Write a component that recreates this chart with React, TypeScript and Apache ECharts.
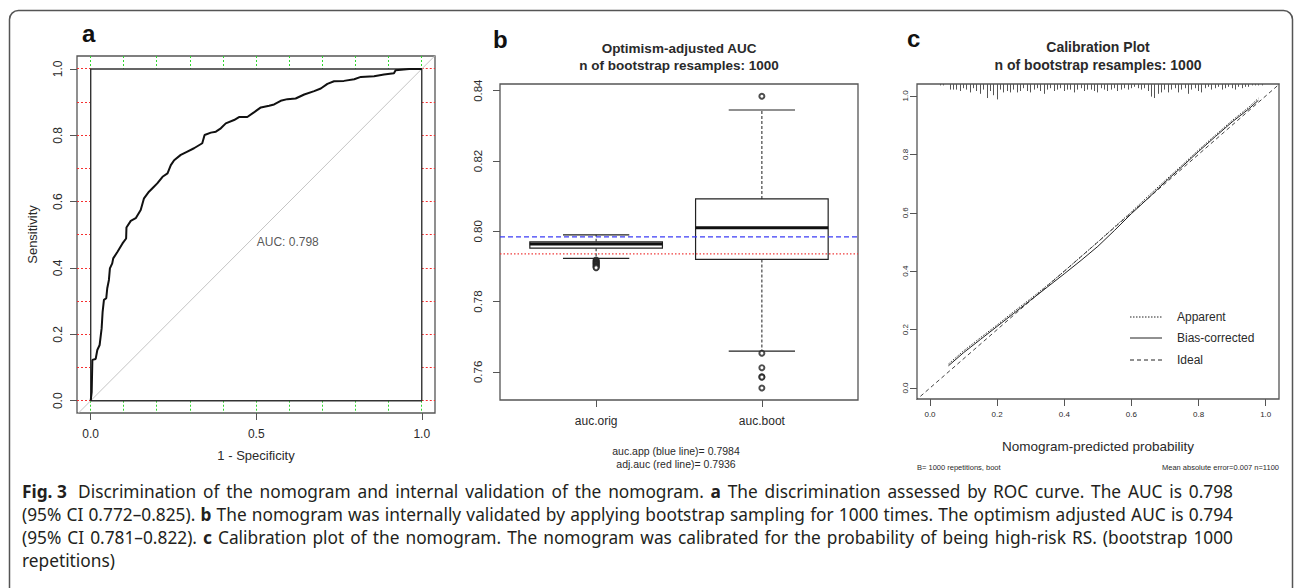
import React, { useEffect, useRef } from "react";
import * as echarts from "echarts";

// ---------------- data ----------------
// Panel a: ROC curve (1 - specificity, sensitivity)
const rocFpr = [0, 0.003, 0.005, 0.015, 0.02, 0.027, 0.033, 0.036, 0.04, 0.047, 0.05, 0.055, 0.058, 0.065, 0.068, 0.081, 0.096, 0.107, 0.108, 0.121, 0.136, 0.151, 0.161, 0.176, 0.191, 0.201, 0.217, 0.232, 0.242, 0.252, 0.272, 0.292, 0.312, 0.337, 0.344, 0.363, 0.378, 0.393, 0.408, 0.433, 0.448, 0.473, 0.493, 0.514, 0.539, 0.554, 0.574, 0.594, 0.619, 0.645, 0.675, 0.695, 0.715, 0.735, 0.765, 0.796, 0.816, 0.856, 0.886, 0.916, 0.921, 0.962, 1];
const rocTpr = [0, 0.027, 0.123, 0.126, 0.153, 0.168, 0.218, 0.268, 0.304, 0.309, 0.339, 0.364, 0.399, 0.414, 0.429, 0.449, 0.474, 0.489, 0.522, 0.542, 0.55, 0.575, 0.61, 0.63, 0.645, 0.655, 0.675, 0.685, 0.71, 0.725, 0.741, 0.751, 0.761, 0.776, 0.801, 0.808, 0.811, 0.821, 0.836, 0.846, 0.855, 0.855, 0.869, 0.884, 0.889, 0.893, 0.904, 0.909, 0.911, 0.923, 0.933, 0.941, 0.955, 0.963, 0.964, 0.969, 0.976, 0.978, 0.983, 0.987, 0.996, 1, 1];
const rocGridSteps = [0, 0.1, 0.2, 0.3, 0.4, 0.5, 0.6, 0.7, 0.8, 0.9, 1];
const rocXTicks = [0, 0.5, 1];
const rocYTicks = [0, 0.2, 0.4, 0.6, 0.8, 1];
const rocExtentX = [-0.0414, 1.04];
const rocExtentY = [-0.037, 1.039];
const rocAucLabel = "AUC: 0.798";
const rocAucAt = [0.5, 0.5];

// Panel b: bootstrap boxplots  [low whisker, Q1, median, Q3, high whisker]
const bootCategories = ["auc.orig", "auc.boot"];
const bootPositions = [1, 2];
const bootStats = [
  [0.7923, 0.7952, 0.7964, 0.797, 0.799],
  [0.7659, 0.792, 0.801, 0.8092, 0.8345],
];
const origOutliers = [0.7918, 0.7916, 0.7914, 0.7912, 0.791, 0.7908, 0.7906, 0.7904, 0.7902, 0.79, 0.7898, 0.7896];
const bootOutliers = [0.8384, 0.7653, 0.7612, 0.7586, 0.7585, 0.7554];
const aucApp = 0.7984;
const aucAdj = 0.7936;
const bootYTicks = [0.76, 0.78, 0.8, 0.82, 0.84];
const bootExtentX = [0.42, 2.58];
const bootExtentY = [0.752, 0.8419];
const boxHalfWidth = 0.4;
const stapleHalfWidth = 0.2;

// Panel c: calibration
const calX = [0.055, 0.1, 0.15, 0.2, 0.25, 0.3, 0.35, 0.4, 0.45, 0.5, 0.55, 0.6, 0.65, 0.7, 0.75, 0.8, 0.85, 0.9, 0.95, 0.978];
const calApparent = [0.082, 0.127, 0.172, 0.216, 0.262, 0.306, 0.352, 0.4, 0.45, 0.5, 0.552, 0.603, 0.657, 0.71, 0.762, 0.815, 0.866, 0.916, 0.962, 0.992];
const calBias = [0.076, 0.121, 0.166, 0.211, 0.256, 0.301, 0.346, 0.391, 0.437, 0.485, 0.54, 0.597, 0.65, 0.705, 0.757, 0.81, 0.861, 0.911, 0.956, 0.985];
const calTicks = [0, 0.2, 0.4, 0.6, 0.8, 1];
const calExtentX = [-0.0387, 1.0396];
const calExtentY = [-0.0377, 1.041];
const rugX = [0.03, 0.04, 0.06, 0.07, 0.08, 0.09, 0.1, 0.11, 0.12, 0.13, 0.14, 0.15, 0.16, 0.17, 0.18, 0.19, 0.2, 0.21, 0.22, 0.23, 0.24, 0.25, 0.26, 0.27, 0.28, 0.29, 0.3, 0.31, 0.32, 0.33, 0.34, 0.35, 0.36, 0.37, 0.38, 0.39, 0.4, 0.41, 0.42, 0.43, 0.44, 0.45, 0.46, 0.47, 0.48, 0.49, 0.5, 0.51, 0.52, 0.53, 0.54, 0.55, 0.56, 0.57, 0.58, 0.59, 0.6, 0.61, 0.62, 0.63, 0.64, 0.65, 0.66, 0.67, 0.68, 0.69, 0.7, 0.71, 0.72, 0.73, 0.74, 0.75, 0.76, 0.77, 0.78, 0.79, 0.8, 0.81, 0.82, 0.83, 0.84, 0.85, 0.86, 0.87, 0.88, 0.89, 0.9, 0.91, 0.92, 0.93, 0.94, 0.95, 0.96, 0.97, 0.98, 0.99];
const rugCounts = [1, 1, 4, 4, 4, 5, 3, 4, 6, 3, 5, 7, 4, 10, 5, 8, 11, 4, 6, 5, 6, 4, 6, 5, 3, 5, 6, 4, 3, 5, 7, 4, 3, 5, 4, 3, 5, 4, 4, 6, 4, 3, 5, 4, 4, 5, 6, 3, 4, 5, 4, 3, 5, 4, 3, 4, 3, 2, 3, 4, 3, 5, 9, 10, 7, 6, 4, 6, 4, 3, 6, 4, 3, 7, 4, 3, 5, 6, 3, 2, 4, 3, 2, 4, 3, 2, 3, 4, 2, 3, 2, 2, 1, 1, 1, 1];
const rugUnit = 0.0048;
const calLegend = ["Apparent", "Bias-corrected", "Ideal"];

// Caption (bold runs marked with **), justified lines except the last
const captionLines = [
  "**Fig. 3**  Discrimination of the nomogram and internal validation of the nomogram. **a** The discrimination assessed by ROC curve. The AUC is 0.798",
  "(95% CI 0.772–0.825). **b** The nomogram was internally validated by applying bootstrap sampling for 1000 times. The optimism adjusted AUC is 0.794",
  "(95% CI 0.781–0.822). **c** Calibration plot of the nomogram. The nomogram was calibrated for the probability of being high-risk RS. (bootstrap 1000",
  "repetitions)",
];

// ---------------- styling ----------------
const FONT = "'Liberation Sans', Arial, sans-serif";
const CAP_FONT = "'Noto Sans'";
const CAP_SIZE = 17.3;
const CAP_LEFT = 22;
const CAP_RIGHT = 1233;
const CAP_Y0 = 491;
const CAP_LH = 23;
const INK = "#2a2a2a";
const CAP_INK = "#231f20";
const FRAME = "#555";

const pairs = (xs: number[], ys: number[]) => xs.map((x, i) => [x, ys[i]]);
const snap = (v: number) => Math.round(v - 0.5) + 0.5;

function mkAxis(o: any) {
  return {
    type: "value",
    gridIndex: o.grid,
    min: o.ext[0],
    max: o.ext[1],
    axisLine: { show: false, onZero: false },
    splitLine: { show: false },
    axisTick: { show: true, customValues: o.ticks, length: 7, lineStyle: { color: FRAME, width: 1 } },
    axisLabel: {
      customValues: o.ticks,
      formatter: o.fmt,
      fontSize: o.fs,
      margin: o.margin,
      rotate: o.rotate || 0,
      color: INK,
      fontFamily: FONT,
    },
    name: o.name || "",
    nameLocation: "middle",
    nameGap: o.nameGap || 0,
    nameRotate: o.nameRotate,
    nameTextStyle: { fontSize: o.nameSize || 12, color: INK, fontFamily: FONT },
  };
}

function captionGraphics(): any[] {
  const canvas = document.createElement("canvas");
  const ctx = canvas.getContext("2d") as CanvasRenderingContext2D;
  const measure = (t: string, bold: boolean) => {
    ctx.font = `${bold ? "bold " : ""}${CAP_SIZE}px ${CAP_FONT}`;
    return ctx.measureText(t).width;
  };
  const spaceW = measure(" ", false);
  const out: any[] = [];
  captionLines.forEach((line, li) => {
    const words: { t: string; b: boolean; extra: number }[] = [];
    line.split(/(\*\*.+?\*\*)/).forEach((seg) => {
      if (!seg) return;
      if (seg.startsWith("**")) {
        words.push({ t: seg.slice(2, -2), b: true, extra: 0 });
        return;
      }
      const lead = seg.match(/^ +/);
      if (lead && lead[0].length > 1 && words.length) words[words.length - 1].extra += spaceW * (lead[0].length - 1);
      seg.split(/ +/).filter((w) => w.length).forEach((w) => words.push({ t: w, b: false, extra: 0 }));
    });
    const widths = words.map((w) => measure(w.t, w.b));
    const total = widths.reduce((a, b) => a + b, 0) + words.reduce((a, w) => a + w.extra, 0);
    const last = li === captionLines.length - 1;
    const gap = last || words.length < 2 ? spaceW : (CAP_RIGHT - CAP_LEFT - total) / (words.length - 1);
    let x = CAP_LEFT;
    const y = CAP_Y0 + li * CAP_LH;
    words.forEach((w, i) => {
      out.push({
        type: "text",
        x,
        y,
        silent: true,
        style: {
          text: w.t,
          fill: CAP_INK,
          fontSize: CAP_SIZE,
          fontFamily: CAP_FONT,
          fontWeight: w.b ? "bold" : "normal",
          align: "left",
          verticalAlign: "middle",
        },
      });
      x += widths[i] + w.extra + gap;
    });
  });
  return out;
}

function buildOption(): any {
  const gridBorder = { show: true, borderColor: FRAME, borderWidth: 1.3, backgroundColor: "transparent" };
  const grids = [
    { left: 77, top: 56, width: 358, height: 357, ...gridBorder },
    { left: 500, top: 84, width: 358, height: 316, ...gridBorder },
    { left: 917, top: 84, width: 362, height: 315, ...gridBorder },
  ];
  const xAxes = [
    mkAxis({ grid: 0, ext: rocExtentX, ticks: rocXTicks, fmt: (v: number) => v.toFixed(1), fs: 12, margin: 15, name: "1 - Specificity", nameGap: 36, nameSize: 13 }),
    mkAxis({ grid: 1, ext: bootExtentX, ticks: bootPositions, fmt: (v: number) => bootCategories[bootPositions.indexOf(v)] || "", fs: 12, margin: 15 }),
    mkAxis({ grid: 2, ext: calExtentX, ticks: calTicks, fmt: (v: number) => v.toFixed(1), fs: 8, margin: 11, name: "Nomogram-predicted probability", nameGap: 40, nameSize: 13.5 }),
  ];
  const yAxes = [
    mkAxis({ grid: 0, ext: rocExtentY, ticks: rocYTicks, fmt: (v: number) => v.toFixed(1), fs: 12, margin: 13, rotate: 90, name: "Sensitivity", nameGap: 38, nameRotate: 90, nameSize: 13 }),
    mkAxis({ grid: 1, ext: bootExtentY, ticks: bootYTicks, fmt: (v: number) => v.toFixed(2), fs: 11.5, margin: 16, rotate: 90 }),
    mkAxis({ grid: 2, ext: calExtentY, ticks: calTicks, fmt: (v: number) => v.toFixed(1), fs: 8, margin: 8, rotate: 90 }),
  ];

  const series: any[] = [];

  // ----- panel a -----
  series.push({
    type: "custom",
    xAxisIndex: 0,
    yAxisIndex: 0,
    silent: true,
    data: rocGridSteps.map((v) => [v]),
    renderItem: (params: any, api: any) => {
      const v = api.value(0);
      const cs = params.coordSys;
      const xv = snap(api.coord([v, 1])[0]);
      const y1 = api.coord([v, 1])[1];
      const y0 = api.coord([v, 0])[1];
      const x0 = api.coord([0, v])[0];
      const yv = snap(api.coord([0, v])[1]);
      const x1 = api.coord([1, v])[0];
      const green = { stroke: "#2fd62f", lineWidth: 1, lineDash: [2, 2] };
      const red = { stroke: "#f53030", lineWidth: 1, lineDash: [2, 2] };
      return {
        type: "group",
        children: [
          { type: "line", shape: { x1: xv, y1: cs.y, x2: xv, y2: y1 }, style: green },
          { type: "line", shape: { x1: xv, y1: y0, x2: xv, y2: cs.y + cs.height }, style: green },
          { type: "line", shape: { x1: cs.x, y1: yv, x2: x0, y2: yv }, style: red },
          { type: "line", shape: { x1: x1, y1: yv, x2: cs.x + cs.width, y2: yv }, style: red },
        ],
      };
    },
  });
  series.push({
    type: "line",
    xAxisIndex: 0,
    yAxisIndex: 0,
    symbol: "none",
    silent: true,
    clip: true,
    data: [[rocExtentX[0] - 0.1, rocExtentX[0] - 0.1], [rocExtentX[1] + 0.1, rocExtentX[1] + 0.1]],
    lineStyle: { color: "#c4c4c4", width: 1 },
  });
  series.push({
    type: "line",
    xAxisIndex: 0,
    yAxisIndex: 0,
    symbol: "none",
    silent: true,
    data: [[0, 0], [1, 0], [1, 1], [0, 1], [0, 0]],
    lineStyle: { color: "#333", width: 1.4 },
  });
  series.push({
    type: "line",
    xAxisIndex: 0,
    yAxisIndex: 0,
    symbol: "none",
    silent: true,
    data: pairs(rocFpr, rocTpr),
    lineStyle: { color: "#111", width: 2 },
  });
  series.push({
    type: "scatter",
    xAxisIndex: 0,
    yAxisIndex: 0,
    symbolSize: 1,
    silent: true,
    itemStyle: { color: "transparent" },
    data: [rocAucAt],
    label: {
      show: true,
      position: "right",
      distance: 0,
      offset: [0, 7],
      formatter: rocAucLabel,
      fontSize: 12,
      color: INK,
      fontFamily: FONT,
    },
  });

  // ----- panel b -----
  series.push({
    type: "custom",
    xAxisIndex: 1,
    yAxisIndex: 1,
    silent: true,
    data: bootPositions.map((p, i) => [p, ...bootStats[i]]),
    renderItem: (_params: any, api: any) => {
      const p = api.value(0);
      const c = (k: number) => api.coord([p, api.value(k)]);
      const [cx, yLow] = c(1);
      const yQ1 = c(2)[1];
      const yMed = c(3)[1];
      const yQ3 = c(4)[1];
      const yHigh = c(5)[1];
      const hw = api.size([boxHalfWidth, 0])[0];
      const sw = api.size([stapleHalfWidth, 0])[0];
      const solid = { stroke: "#222", lineWidth: 1.2, fill: "none" };
      const dashed = { stroke: "#333", lineWidth: 1.1, lineDash: [3, 2] };
      return {
        type: "group",
        children: [
          { type: "line", shape: { x1: cx, y1: yQ3, x2: cx, y2: yHigh }, style: dashed },
          { type: "line", shape: { x1: cx, y1: yQ1, x2: cx, y2: yLow }, style: dashed },
          { type: "line", shape: { x1: cx - sw, y1: yHigh, x2: cx + sw, y2: yHigh }, style: solid },
          { type: "line", shape: { x1: cx - sw, y1: yLow, x2: cx + sw, y2: yLow }, style: solid },
          { type: "rect", shape: { x: cx - hw, y: yQ3, width: 2 * hw, height: yQ1 - yQ3 }, style: { stroke: "#222", lineWidth: 1.2, fill: "#fff" } },
          { type: "line", shape: { x1: cx - hw, y1: yMed, x2: cx + hw, y2: yMed }, style: { stroke: "#111", lineWidth: 3 } },
        ],
      };
    },
  });
  series.push({
    type: "scatter",
    xAxisIndex: 1,
    yAxisIndex: 1,
    silent: true,
    symbol: "emptyCircle",
    symbolSize: 5,
    itemStyle: { color: "#222", borderWidth: 0.9 },
    data: [
      ...origOutliers.map((v) => [bootPositions[0], v]),
      ...bootOutliers.map((v) => [bootPositions[1], v]),
    ],
  });
  series.push({
    type: "line",
    xAxisIndex: 1,
    yAxisIndex: 1,
    symbol: "none",
    silent: true,
    data: [[bootExtentX[0], aucApp], [bootExtentX[1], aucApp]],
    lineStyle: { color: "#3c3cf5", width: 1.3, type: [5, 3] },
  });
  series.push({
    type: "line",
    xAxisIndex: 1,
    yAxisIndex: 1,
    symbol: "none",
    silent: true,
    data: [[bootExtentX[0], aucAdj], [bootExtentX[1], aucAdj]],
    lineStyle: { color: "#f03c3c", width: 1.3, type: [1.5, 2] },
  });

  // ----- panel c -----
  series.push({
    type: "custom",
    xAxisIndex: 2,
    yAxisIndex: 2,
    silent: true,
    data: pairs(rugX, rugCounts),
    renderItem: (params: any, api: any) => {
      const cs = params.coordSys;
      const x = snap(api.coord([api.value(0), 0])[0]);
      const len = api.size([0, api.value(1) * rugUnit])[1];
      return { type: "line", shape: { x1: x, y1: cs.y, x2: x, y2: cs.y + len }, style: { stroke: "#555", lineWidth: 1 } };
    },
  });
  series.push({
    type: "line",
    xAxisIndex: 2,
    yAxisIndex: 2,
    symbol: "none",
    silent: true,
    clip: true,
    data: [[calExtentX[0] - 0.1, calExtentX[0] - 0.1], [calExtentX[1] + 0.1, calExtentX[1] + 0.1]],
    lineStyle: { color: "#444", width: 1, type: [4, 3] },
  });
  series.push({
    type: "line",
    xAxisIndex: 2,
    yAxisIndex: 2,
    symbol: "none",
    silent: true,
    data: pairs(calX, calApparent),
    lineStyle: { color: "#333", width: 1, type: [1.5, 1.5] },
  });
  series.push({
    type: "line",
    xAxisIndex: 2,
    yAxisIndex: 2,
    symbol: "none",
    silent: true,
    data: pairs(calX, calBias),
    lineStyle: { color: "#222", width: 1 },
  });

  // ----- graphic: frame, labels, titles, legend, caption -----
  const txt = (x: number, y: number, text: string, o: any = {}) => ({
    type: "text",
    x,
    y,
    silent: true,
    style: {
      text,
      fill: o.fill || INK,
      fontSize: o.fs || 12,
      fontFamily: o.ff || FONT,
      fontWeight: o.fw || "normal",
      align: o.align || "left",
      verticalAlign: o.va || "middle",
    },
  });
  const legendY = [317, 338, 360];
  const legendDash = [[1.5, 1.5], null, [4, 3]];

  const graphic: any[] = [
    { type: "rect", silent: true, z: -1, shape: { x: 9.5, y: 10.5, width: 1283, height: 640, r: 9 }, style: { fill: "none", stroke: "#555", lineWidth: 1.5 } },
    txt(82, 33.6, "a", { fs: 24, fw: "bold", fill: "#111" }),
    txt(493, 39.6, "b", { fs: 24, fw: "bold", fill: "#111" }),
    txt(907, 38.6, "c", { fs: 24, fw: "bold", fill: "#111" }),
    txt(679, 48, "Optimism-adjusted AUC", { fs: 13.5, fw: "bold", align: "center" }),
    txt(679, 65, "n of bootstrap resamples: 1000", { fs: 13.5, fw: "bold", align: "center" }),
    txt(1098, 47, "Calibration Plot", { fs: 14, fw: "bold", align: "center" }),
    txt(1098, 65, "n of bootstrap resamples: 1000", { fs: 14, fw: "bold", align: "center" }),
    txt(676, 450.5, "auc.app (blue line)= " + aucApp.toFixed(4), { fs: 10.5, align: "center" }),
    txt(676, 464, "adj.auc (red line)= " + aucAdj.toFixed(4), { fs: 10.5, align: "center" }),
    txt(917, 467, "B= 1000 repetitions, boot", { fs: 7.5 }),
    txt(1279, 467, "Mean absolute error=0.007 n=1100", { fs: 7.5, align: "right" }),
    ...calLegend.map((name, i) => ({
      type: "line",
      silent: true,
      shape: { x1: 1130, y1: legendY[i], x2: 1162, y2: legendY[i] },
      style: { stroke: "#222", lineWidth: 1, lineDash: legendDash[i] || undefined },
    })),
    ...calLegend.map((name, i) => txt(1177, legendY[i], name, { fs: 12 })),
    ...captionGraphics(),
  ];

  return {
    animation: false,
    backgroundColor: "#fff",
    textStyle: { fontFamily: FONT },
    grid: grids,
    xAxis: xAxes,
    yAxis: yAxes,
    series,
    graphic,
  };
}

export default function App() {
  const ref = useRef<HTMLDivElement>(null);
  useEffect(() => {
    if (!ref.current) return;
    const chart = echarts.init(ref.current, null, { renderer: "svg" });
    chart.setOption(buildOption());
    return () => chart.dispose();
  }, []);
  return (
    <div
      ref={ref}
      style={{ position: "fixed", left: 0, top: 0, width: 1295, height: 588, background: "#fff" }}
    />
  );
}
